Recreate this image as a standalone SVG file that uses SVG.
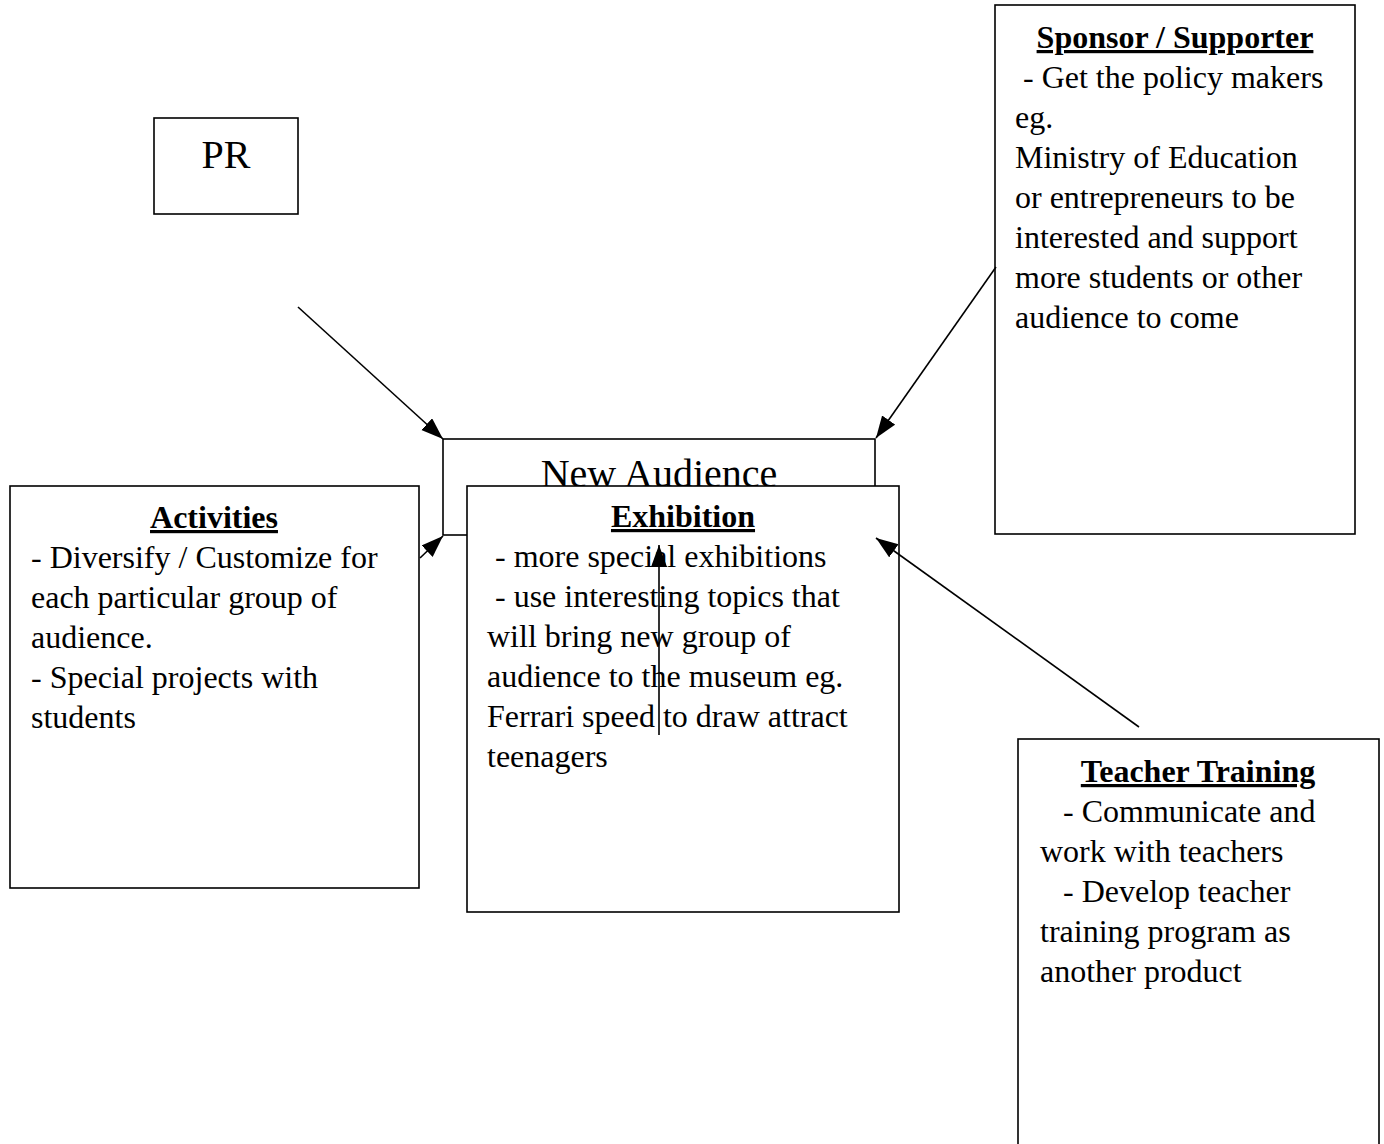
<svg xmlns="http://www.w3.org/2000/svg" width="1384" height="1144" viewBox="0 0 1384 1144">
<style>
.box{fill:#fff;stroke:#000;stroke-width:1.6}
.t{font-family:"Liberation Serif","Times New Roman",serif;font-size:32px;fill:#000}
.big{font-family:"Liberation Serif","Times New Roman",serif;font-size:40px;fill:#000}
.h{font-weight:bold;text-decoration:underline;text-anchor:middle}
.c{stroke:#000;stroke-width:1.6;fill:none}
</style>
<defs>
<marker id="ah" markerUnits="userSpaceOnUse" markerWidth="24" markerHeight="18" refX="22" refY="8" orient="auto">
<path d="M0,0 L22,8 L0,16 z" fill="#000"/>
</marker>
</defs>
<rect width="1384" height="1144" fill="#fff"/>
<g id="pr">
<rect class="box" x="154" y="118" width="144" height="96"/>
<text class="big" x="226" y="168" text-anchor="middle">PR</text>
</g>
<g id="new-audience">
<rect class="box" x="443" y="439" width="432" height="96"/>
<text class="big" x="659" y="487" text-anchor="middle">New Audience</text>
</g>
<g id="sponsor">
<rect class="box" x="995" y="5" width="360" height="529"/>
<text class="t h" x="1175" y="48">Sponsor / Supporter</text>
<text class="t" x="1023" y="88">- Get the policy makers</text>
<text class="t" x="1015" y="128">eg.</text>
<text class="t" x="1015" y="168">Ministry of Education</text>
<text class="t" x="1015" y="208">or entrepreneurs to be</text>
<text class="t" x="1015" y="248">interested and support</text>
<text class="t" x="1015" y="288">more students or other</text>
<text class="t" x="1015" y="328">audience to come</text>
</g>
<g id="activities">
<rect class="box" x="10" y="486" width="409" height="402"/>
<text class="t h" x="214" y="528">Activities</text>
<text class="t" x="31" y="568">- Diversify / Customize for</text>
<text class="t" x="31" y="608">each particular group of</text>
<text class="t" x="31" y="648">audience.</text>
<text class="t" x="31" y="688">- Special projects with</text>
<text class="t" x="31" y="728">students</text>
</g>
<g id="exhibition">
<rect class="box" x="467" y="486" width="432" height="426"/>
<text class="t h" x="683" y="527">Exhibition</text>
<text class="t" x="495" y="567">- more special exhibitions</text>
<text class="t" x="495" y="607">- use interesting topics that</text>
<text class="t" x="487" y="647">will bring new group of</text>
<text class="t" x="487" y="687">audience to the museum eg.</text>
<text class="t" x="487" y="727">Ferrari speed to draw attract</text>
<text class="t" x="487" y="767">teenagers</text>
</g>
<g id="teacher-training">
<rect class="box" x="1018" y="739" width="361" height="420"/>
<text class="t h" x="1198" y="782">Teacher Training</text>
<text class="t" x="1063" y="822">- Communicate and</text>
<text class="t" x="1040" y="862">work with teachers</text>
<text class="t" x="1063" y="902">- Develop teacher</text>
<text class="t" x="1040" y="942">training program as</text>
<text class="t" x="1040" y="982">another product</text>
</g>
<g id="connectors">
<line class="c" x1="298" y1="307" x2="443" y2="439" marker-end="url(#ah)"/>
<line class="c" x1="996" y1="267" x2="876" y2="438" marker-end="url(#ah)"/>
<line class="c" x1="420" y1="558" x2="443" y2="536" marker-end="url(#ah)"/>
<line class="c" x1="659" y1="735" x2="659" y2="545" marker-end="url(#ah)"/>
<line class="c" x1="1139" y1="727" x2="876" y2="538" marker-end="url(#ah)"/>
</g>
</svg>
